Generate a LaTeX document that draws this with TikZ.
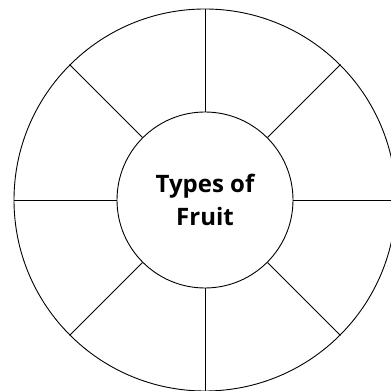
\documentclass[tikz,border=0pt]{standalone}
\usepackage{fontspec}
\setsansfont{Open Sans}
\usepackage{tikz}
\usetikzlibrary{positioning}
\tikzset{hub/.style={draw, circle, align=center, inner sep=0pt, minimum size=176pt, line width=0.9pt, font=\sffamily\bfseries\fontsize{24}{33}\selectfont},
rim/.style={draw, circle, inner sep=0pt, minimum size=382pt, line width=0.9pt},
spoke/.style={line width=0.9pt}}

\begin{document}
\begin{tikzpicture}[x=1pt, y=1pt]
  \useasboundingbox (0,0) rectangle (391,391);
  \clip (0,0) rectangle (391,391);
  \node[rim] (wheel) at (205,191) {};
  \node[hub] (fruit) at (205,191) {Types of\\ Fruit};
  \foreach \a in {0,45,...,315}
    \draw[spoke] (fruit.\a) -- (wheel.\a);
\end{tikzpicture}
\end{document}
